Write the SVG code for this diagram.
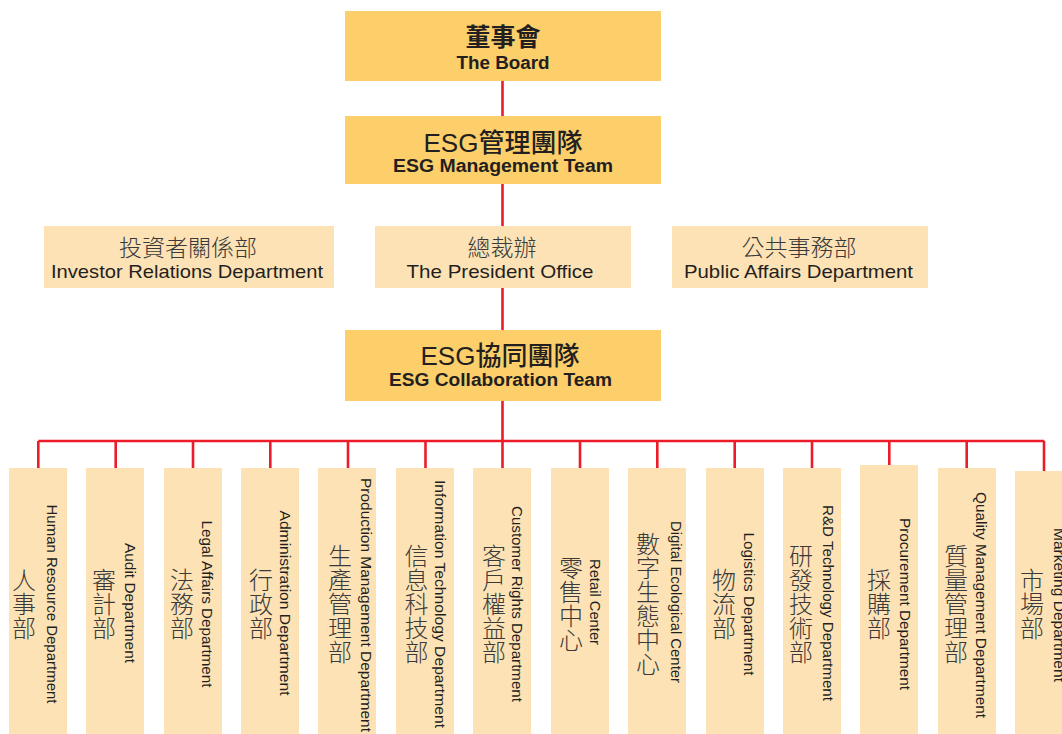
<svg xmlns="http://www.w3.org/2000/svg" width="1062" height="734" viewBox="0 0 1062 734">
<style>
.dk{fill:#FCCF6B}
.lt{fill:#FDE2B6}
.ln{fill:none;stroke:#EC1C2A;stroke-width:2.6}
.t{font-family:"Liberation Sans","Noto Sans CJK TC",sans-serif;fill:#231F20;text-anchor:middle}
.hb{font-size:26px;font-weight:500}
.hcn{font-size:25px;font-weight:700}
.hen{font-size:18px;font-weight:700}
.mcn{font-size:23px;font-weight:300;fill:#3a3a3a}
.men{font-size:19px}
.vcn{font-family:"Noto Sans CJK TC",sans-serif;font-size:24px;font-weight:300;fill:#3a3a3a;text-anchor:middle;writing-mode:vertical-rl}
.ven{font-size:14px}
</style>
<rect width="1062" height="734" fill="#fff"/>
<g id="connectors">
<path class="ln" d="M502.5 81V116M502.5 184V226M502.5 288V330M502.5 401V441M38.3 441H1044.3M38.3 441V468M115.7 441V468M193 441V468M270.3 441V468M348 441V468M425.5 441V468M502.5 441V468M580 441V468M657.3 441V468M734.7 441V468M812 441V468M889.3 441V465M966.7 441V468M1044 441V471"/>
</g>
<g id="board"><rect class="dk" x="345" y="11" width="316" height="70"/>
<text class="t hcn" x="503" y="46">董事會</text>
<text class="t hen" x="503" y="68.5" textLength="93" lengthAdjust="spacingAndGlyphs">The Board</text></g>
<g id="esg-management"><rect class="dk" x="345" y="116" width="316" height="68"/>
<text class="t hb" x="503" y="152">ESG管理團隊</text>
<text class="t hen" x="503" y="172" textLength="220" lengthAdjust="spacingAndGlyphs">ESG Management Team</text></g>
<g id="investor-relations"><rect class="lt" x="44" y="226" width="290" height="62"/>
<text class="t mcn" x="188" y="256">投資者關係部</text>
<text class="t men" x="187" y="278" textLength="272" lengthAdjust="spacingAndGlyphs">Investor Relations Department</text></g>
<g id="president-office"><rect class="lt" x="375" y="226" width="256" height="62"/>
<text class="t mcn" x="502" y="256">總裁辦</text>
<text class="t men" x="500" y="278" textLength="187" lengthAdjust="spacingAndGlyphs">The President Office</text></g>
<g id="public-affairs"><rect class="lt" x="672" y="226" width="256" height="62"/>
<text class="t mcn" x="799" y="256">公共事務部</text>
<text class="t men" x="798.5" y="278" textLength="229" lengthAdjust="spacingAndGlyphs">Public Affairs Department</text></g>
<g id="esg-collaboration"><rect class="dk" x="345" y="330" width="316" height="71"/>
<text class="t hb" x="500" y="365">ESG協同團隊</text>
<text class="t hen" x="500.5" y="386" textLength="223" lengthAdjust="spacingAndGlyphs">ESG Collaboration Team</text></g>

<g id="hr"><rect class="lt" x="9" y="468" width="58" height="266"/>
<text class="vcn" x="24" y="604">人事部</text>
<text class="t ven" transform="translate(47,604) rotate(90)" textLength="199" lengthAdjust="spacingAndGlyphs">Human Resource Department</text></g>
<g id="audit"><rect class="lt" x="86" y="468" width="58" height="266"/>
<text class="vcn" x="104" y="604">審計部</text>
<text class="t ven" transform="translate(124.5,603) rotate(90)" textLength="120" lengthAdjust="spacingAndGlyphs">Audit Department</text></g>
<g id="legal"><rect class="lt" x="164" y="468" width="58" height="266"/>
<text class="vcn" x="182" y="604">法務部</text>
<text class="t ven" transform="translate(201.5,604) rotate(90)" textLength="167" lengthAdjust="spacingAndGlyphs">Legal Affairs Department</text></g>
<g id="admin"><rect class="lt" x="241" y="468" width="58" height="266"/>
<text class="vcn" x="261" y="604">行政部</text>
<text class="t ven" transform="translate(279.5,603) rotate(90)" textLength="185" lengthAdjust="spacingAndGlyphs">Administration Department</text></g>
<g id="production"><rect class="lt" x="318" y="468" width="58" height="266"/>
<text class="vcn" x="340" y="604">生產管理部</text>
<text class="t ven" transform="translate(360.5,605) rotate(90)" textLength="254" lengthAdjust="spacingAndGlyphs">Production Management Department</text></g>
<g id="it"><rect class="lt" x="396" y="468" width="58" height="266"/>
<text class="vcn" x="416.5" y="604">信息科技部</text>
<text class="t ven" transform="translate(434.5,604) rotate(90)" textLength="248" lengthAdjust="spacingAndGlyphs">Information Technology Department</text></g>
<g id="customer-rights"><rect class="lt" x="473" y="468" width="58" height="266"/>
<text class="vcn" x="494" y="604">客戶權益部</text>
<text class="t ven" transform="translate(511.5,604) rotate(90)" textLength="196" lengthAdjust="spacingAndGlyphs">Customer Rights Department</text></g>
<g id="retail"><rect class="lt" x="551" y="468" width="58" height="266"/>
<text class="vcn" x="571" y="604">零售中心</text>
<text class="t ven" transform="translate(589.5,602) rotate(90)" textLength="86" lengthAdjust="spacingAndGlyphs">Retail Center</text></g>
<g id="digital-ecological"><rect class="lt" x="628" y="468" width="58" height="266"/>
<text class="vcn" x="648" y="604">數字生態中心</text>
<text class="t ven" transform="translate(670.5,602) rotate(90)" textLength="162" lengthAdjust="spacingAndGlyphs">Digital Ecological Center</text></g>
<g id="logistics"><rect class="lt" x="706" y="468" width="58" height="266"/>
<text class="vcn" x="724" y="604">物流部</text>
<text class="t ven" transform="translate(743.5,604) rotate(90)" textLength="143" lengthAdjust="spacingAndGlyphs">Logistics Department</text></g>
<g id="rd"><rect class="lt" x="783" y="468" width="58" height="266"/>
<text class="vcn" x="801" y="604">研發技術部</text>
<text class="t ven" transform="translate(822.5,603) rotate(90)" textLength="196" lengthAdjust="spacingAndGlyphs">R&amp;D Technology Department</text></g>
<g id="procurement"><rect class="lt" x="860" y="465" width="58" height="269"/>
<text class="vcn" x="879" y="604">採購部</text>
<text class="t ven" transform="translate(899.5,604) rotate(90)" textLength="172" lengthAdjust="spacingAndGlyphs">Procurement Department</text></g>
<g id="quality"><rect class="lt" x="938" y="468" width="58" height="266"/>
<text class="vcn" x="956" y="604">質量管理部</text>
<text class="t ven" transform="translate(975.5,605) rotate(90)" textLength="226" lengthAdjust="spacingAndGlyphs">Quality Management Department</text></g>
<g id="marketing"><rect class="lt" x="1015" y="471" width="58" height="263"/>
<text class="vcn" x="1032" y="604">市場部</text>
<text class="t ven" transform="translate(1053.5,605) rotate(90)" textLength="154" lengthAdjust="spacingAndGlyphs">Marketing Department</text></g>
</svg>
